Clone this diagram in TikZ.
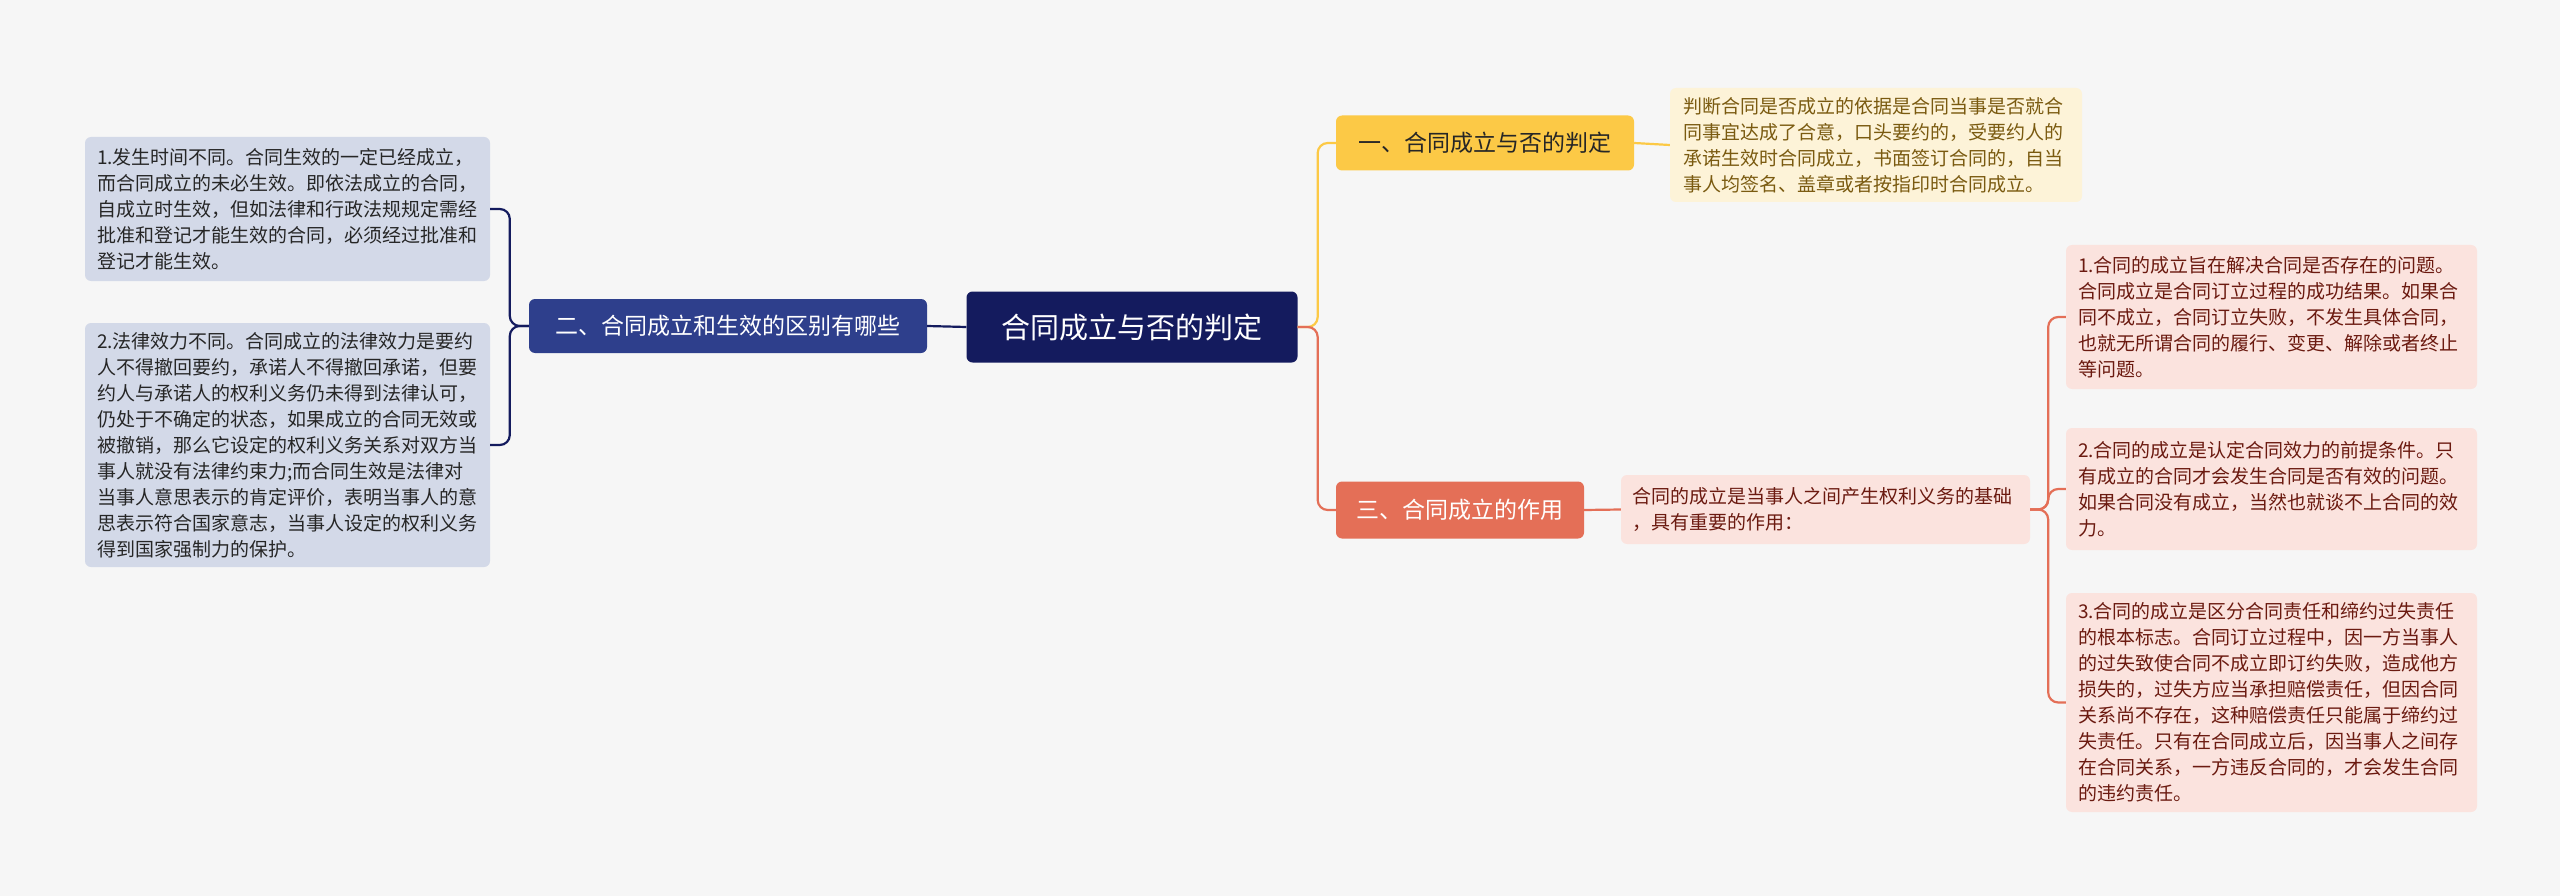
\documentclass[tikz,border=0pt]{standalone}
\usepackage{fontspec}
\setmainfont{Noto Sans CJK SC}
\begin{document}
\begin{tikzpicture}[x=1pt,y=-1pt,
  box/.style={rounded corners=6pt, inner sep=0pt, align=left},
  leafbox/.style={box, font=\fontsize{19}{26}\selectfont},
  lk/.style={line width=2.2pt, rounded corners=10pt}]
\definecolor{bg}{HTML}{F6F6F6}
\definecolor{navy}{HTML}{141B5E}
\definecolor{blu}{HTML}{2E3F8C}
\definecolor{bluleaf}{HTML}{D3D9E8}
\definecolor{yel}{HTML}{FCC946}
\definecolor{yelleaf}{HTML}{FDF3D8}
\definecolor{yeltxt}{HTML}{7A5A10}
\definecolor{org}{HTML}{E46F57}
\definecolor{orgleaf}{HTML}{FBE3DE}
\definecolor{orgtxt}{HTML}{6B1A10}
\fill[bg] (0,0) rectangle (2560,896);
\useasboundingbox (0,0) rectangle (2560,896);

\node[box, fill=navy, text=white, minimum width=331pt, minimum height=71pt, align=center, font=\fontsize{29}{34}\selectfont] (root) at (1132,327) {合同成立与否的判定};
\node[box, fill=blu, text=white, minimum width=398pt, minimum height=54pt, align=center, font=\fontsize{23}{28}\selectfont] (lm) at (728,326) {二、合同成立和生效的区别有哪些};
\node[box, fill=yel, text=black!85, minimum width=298pt, minimum height=55pt, align=center, font=\fontsize{23}{28}\selectfont] (tm) at (1485,143) {一、合同成立与否的判定};
\node[box, fill=org, text=white, minimum width=248pt, minimum height=57pt, align=center, font=\fontsize{23}{28}\selectfont] (bm) at (1460,510) {三、合同成立的作用};

\node[leafbox, fill=bluleaf, text=black!85, minimum width=405pt, minimum height=144pt, text width=381pt] (l1) at (287.5,209) {1.发生时间不同。合同生效的一定已经成立，\\而合同成立的未必生效。即依法成立的合同，\\自成立时生效，但如法律和行政法规规定需经\\批准和登记才能生效的合同，必须经过批准和\\登记才能生效。};
\node[leafbox, fill=bluleaf, text=black!85, minimum width=405pt, minimum height=244pt, text width=381pt] (l2) at (287.5,445) {2.法律效力不同。合同成立的法律效力是要约\\人不得撤回要约，承诺人不得撤回承诺，但要\\约人与承诺人的权利义务仍未得到法律认可，\\仍处于不确定的状态，如果成立的合同无效或\\被撤销，那么它设定的权利义务关系对双方当\\事人就没有法律约束力;而合同生效是法律对\\当事人意思表示的肯定评价，表明当事人的意\\思表示符合国家意志，当事人设定的权利义务\\得到国家强制力的保护。};

\node[leafbox, fill=yelleaf, text=yeltxt, minimum width=412pt, minimum height=114pt, text width=386pt] (tl) at (1876,145) {判断合同是否成立的依据是合同当事是否就合\\同事宜达成了合意，口头要约的，受要约人的\\承诺生效时合同成立，书面签订合同的，自当\\事人均签名、盖章或者按指印时合同成立。};

\node[leafbox, fill=orgleaf, text=orgtxt, minimum width=409pt, minimum height=69pt, text width=387pt] (bc) at (1825.5,509.5) {合同的成立是当事人之间产生权利义务的基础\\，具有重要的作用：};

\node[leafbox, fill=orgleaf, text=orgtxt, minimum width=411pt, minimum height=144pt, text width=387pt] (r1) at (2271.5,317) {1.合同的成立旨在解决合同是否存在的问题。\\合同成立是合同订立过程的成功结果。如果合\\同不成立，合同订立失败，不发生具体合同，\\也就无所谓合同的履行、变更、解除或者终止\\等问题。};
\node[leafbox, fill=orgleaf, text=orgtxt, minimum width=411pt, minimum height=122pt, text width=387pt] (r2) at (2271.5,489) {2.合同的成立是认定合同效力的前提条件。只\\有成立的合同才会发生合同是否有效的问题。\\如果合同没有成立，当然也就谈不上合同的效\\力。};
\node[leafbox, fill=orgleaf, text=orgtxt, minimum width=411pt, minimum height=219pt, text width=387pt] (r3) at (2271.5,702.5) {3.合同的成立是区分合同责任和缔约过失责任\\的根本标志。合同订立过程中，因一方当事人\\的过失致使合同不成立即订约失败，造成他方\\损失的，过失方应当承担赔偿责任，但因合同\\关系尚不存在，这种赔偿责任只能属于缔约过\\失责任。只有在合同成立后，因当事人之间存\\在合同关系，一方违反合同的，才会发生合同\\的违约责任。};

\draw[lk, navy] (root.west) -- (lm.east);
\draw[lk, navy] (lm.west) -- ++(-19,0) |- (l1.east);
\draw[lk, navy] (lm.west) -- ++(-19,0) |- (l2.east);
\draw[lk, yel] (root.east) -- ++(20,0) |- (tm.west);
\draw[lk, org] (root.east) -- ++(20,0) |- (bm.west);
\draw[lk, yel] (tm.east) -- (tl.west);
\draw[lk, org] (bm.east) -- (bc.west);
\draw[lk, org] (bc.east) -- ++(18,0) |- (r1.west);
\draw[lk, org] (bc.east) -- ++(18,0) |- (r2.west);
\draw[lk, org] (bc.east) -- ++(18,0) |- (r3.west);
\end{tikzpicture}
\end{document}
